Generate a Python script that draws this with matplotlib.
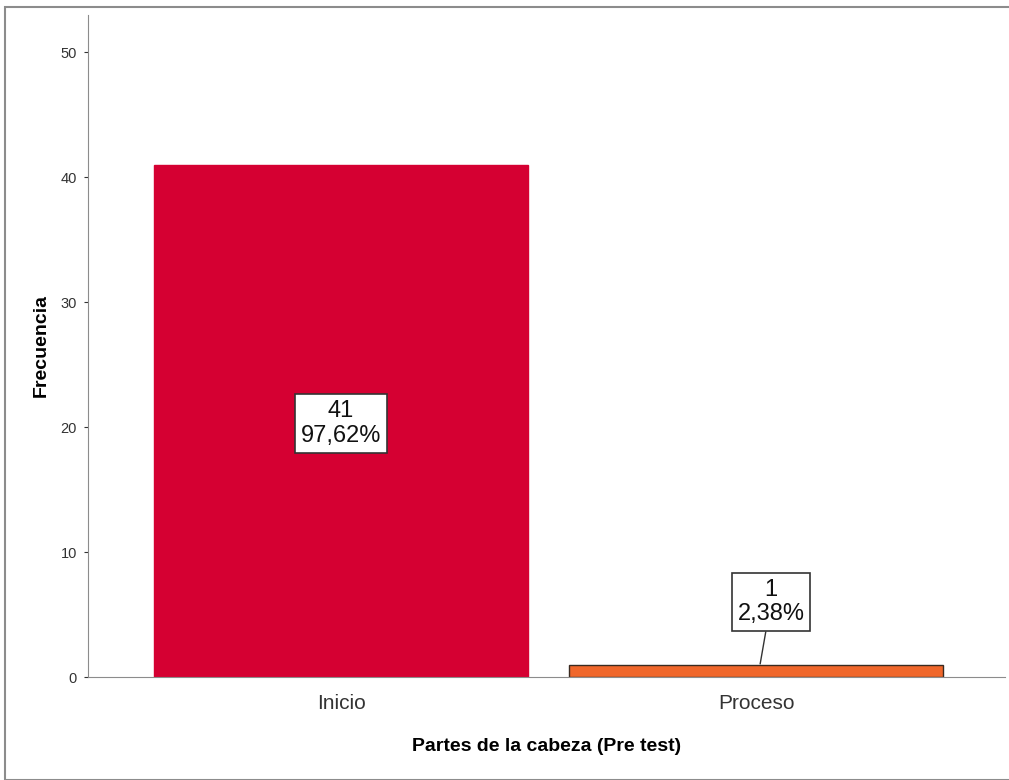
import matplotlib.pyplot as plt
from matplotlib.patches import Rectangle

# Datos
categorias = ["Inicio", "Proceso"]
frecuencias = [41, 1]
porcentajes = ["97,62%", "2,38%"]
colores = ["#D50032", "#F0672B"]

plt.rcParams['font.family'] = ['Liberation Sans', 'DejaVu Sans']

fig = plt.figure(figsize=(10.09, 7.8), dpi=100)
ax = fig.add_axes([0.0872, 0.132, 0.9088, 0.849])

# marco exterior
fig.patches.append(Rectangle((0.005, 0.0), 1.2, 0.991, transform=fig.transFigure,
                             fill=False, edgecolor="#8c8c8c", linewidth=1.5))

x = list(range(len(categorias)))
ax.bar(x, frecuencias, width=0.9, color=colores,
       edgecolor=["#D50032", "#3a2a20"], linewidth=1.0, zorder=2)

ax.set_xlim(-0.61, 1.6)
ax.set_ylim(0, 53)
ax.set_yticks([0, 10, 20, 30, 40, 50])
ax.set_xticks(x)
ax.set_xticklabels(categorias, fontsize=15, color="#333333")
ax.tick_params(axis='y', labelsize=10.5, colors="#333333", length=3, width=0.8, pad=5)
ax.tick_params(axis='x', length=0, pad=12)

ax.spines['top'].set_visible(False)
ax.spines['right'].set_visible(False)
ax.spines['left'].set_color("#8c8c8c")
ax.spines['bottom'].set_color("#8c8c8c")

ax.set_ylabel("Frecuencia", fontsize=14, fontweight='bold', labelpad=8)
ax.set_xlabel("Partes de la cabeza (Pre test)", fontsize=14, fontweight='bold', labelpad=18)

caja = dict(boxstyle="square,pad=0.25", facecolor="white", edgecolor="#333333", linewidth=1.2)

ax.text(x[0], 20.3, f"{frecuencias[0]}\n{porcentajes[0]}", ha='center', va='center',
        fontsize=17, color="#111111", bbox=caja, linespacing=1.15, zorder=3)

ax.annotate(f"{frecuencias[1]}\n{porcentajes[1]}", xy=(x[1] + 0.01, frecuencias[1] + 0.05),
            xytext=(x[1] + 0.036, 6.0), ha='center', va='center',
            fontsize=17, color="#111111", bbox=caja, linespacing=1.15, zorder=3,
            arrowprops=dict(arrowstyle='-', color="#333333", linewidth=1.0, shrinkA=0, shrinkB=0))

fig.savefig("out.png", dpi=100)
